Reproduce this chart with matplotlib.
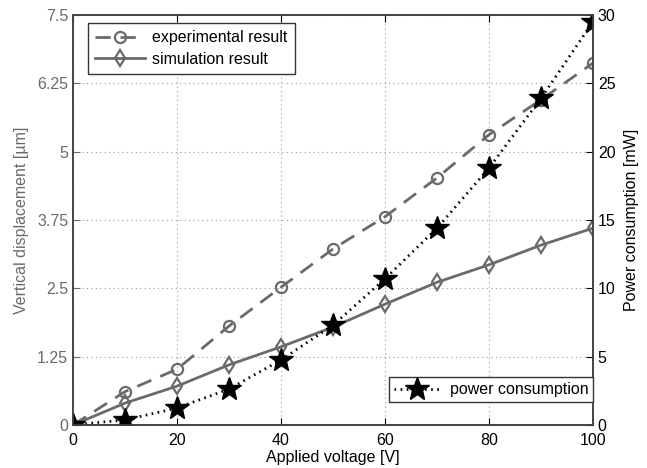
import matplotlib
matplotlib.use("Agg")
import matplotlib.pyplot as plt

voltage = [0, 10, 20, 30, 40, 50, 60, 70, 80, 90, 100]
experimental = [0, 0.61, 1.02, 1.81, 2.52, 3.22, 3.81, 4.52, 5.31, 5.95, 6.62]
simulation = [0, 0.40, 0.71, 1.10, 1.43, 1.79, 2.21, 2.61, 2.93, 3.29, 3.60]
power = [0, 0.37, 1.24, 2.63, 4.76, 7.3, 10.7, 14.4, 18.8, 23.9, 29.5]

left_ticks = [0, 1.25, 2.5, 3.75, 5, 6.25, 7.5]
left_labels = ["0", "1.25", "2.5", "3.75", "5", "6.25", "7.5"]
right_ticks = [0, 5, 10, 15, 20, 25, 30]
x_ticks = [0, 20, 40, 60, 80, 100]

plt.rcParams['font.family'] = ['Liberation Sans', 'DejaVu Sans']
plt.rcParams['font.size'] = 11

gray = '#6a6a6a'
fig = plt.figure(figsize=(6.47, 4.68), dpi=100)
ax = fig.add_axes([0.113, 0.092, 0.8035, 0.876])
ax2 = ax.twinx()

l1, = ax.plot(voltage, experimental, linestyle=(0, (5.5, 3.5)), color=gray, lw=2,
              marker='o', markersize=8, markerfacecolor='none', markeredgewidth=1.6,
              label='experimental result')
l2, = ax.plot(voltage, simulation, linestyle='-', color=gray, lw=2,
              marker='d', markersize=8, markerfacecolor='none', markeredgewidth=1.6,
              label='simulation result')
l3, = ax2.plot(voltage, power, linestyle=(0, (0.6, 1.6)), color='black', lw=2,
               marker='*', markersize=18, markerfacecolor='black', markeredgecolor='black',
               label='power consumption')

ax.set_xlim(0, 100)
ax.set_ylim(0, 7.5)
ax2.set_ylim(0, 30)
ax.set_xticks(x_ticks)
ax.set_yticks(left_ticks)
ax.set_yticklabels(left_labels)
ax2.set_yticks(right_ticks)

ax.grid(True, linestyle=(0, (1, 3)), color='#999999', lw=0.8)
ax.set_axisbelow(True)

ax.tick_params(axis='y', colors=gray, direction='in', length=5, labelsize=11.5)
ax.tick_params(axis='x', colors='black', direction='in', length=5, labelsize=11.5, top=True, pad=6)
ax2.tick_params(axis='y', colors='black', direction='in', length=5, labelsize=11.5)
for a in (ax, ax2):
    for s in a.spines.values():
        s.set_color('#444444')
        s.set_linewidth(1.2)

ax.set_xlabel('Applied voltage [V]', fontsize=11.5, labelpad=1)
ax.set_ylabel('Vertical displacement [µm]', color=gray, fontsize=11.5, labelpad=6)
ax2.set_ylabel('Power consumption [mW]', color='black', fontsize=11.5, labelpad=6)

leg1 = ax.legend(handles=[l1, l2], loc='upper left', bbox_to_anchor=(0.029, 0.98),
                 borderaxespad=0, fancybox=False, edgecolor='#333333', framealpha=1,
                 fontsize=11.5, handlelength=3.1, handletextpad=0.45,
                 borderpad=0.45, labelspacing=0.4)
leg1.get_frame().set_linewidth(1.0)
leg2 = ax2.legend(handles=[l3], loc='lower right', bbox_to_anchor=(1.0, 0.056),
                  borderaxespad=0, fancybox=False, edgecolor='#333333', framealpha=1,
                  fontsize=11.5, handlelength=2.9, handletextpad=0.6, borderpad=0.3)
leg2.get_frame().set_linewidth(1.0)

fig.savefig('out.png', dpi=100)
